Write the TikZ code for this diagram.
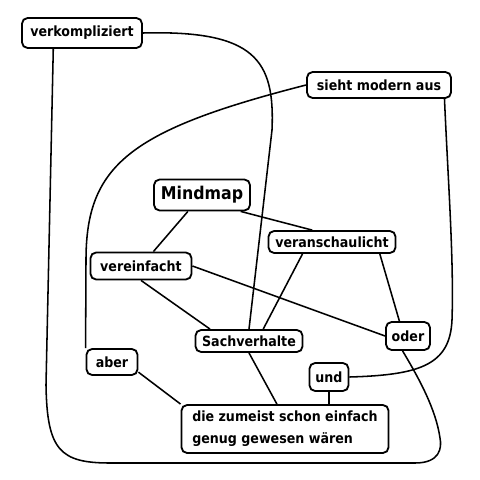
\documentclass[tikz,border=0pt]{standalone}
\usepackage{fontspec}
\setmainfont{DejaVu Sans Condensed}
\usepackage{tikz}

\begin{document}
\begin{tikzpicture}[x=0.025cm,y=-0.025cm,
    bubble/.style={draw,line width=1.3pt,rounded corners=4pt,inner sep=0pt,
      font=\fontsize{10}{12}\bfseries\selectfont},
    link/.style={line width=1.1pt}]
  \useasboundingbox (0,0) rectangle (480,480);
  \foreach \n/\x/\y/\w/\h/\t in {vk/82/33/120/30/verkompliziert,sm/379/85/144/26/sieht modern aus,
      va/332/242/127/22/veranschaulicht,vf/141/266/101/27/vereinfacht,sv/249/341/107/22/Sachverhalte,
      od/408/336/44/28/oder,ab/112/362/51/26/aber,ud/329/377/39/28/und}
    \node[bubble,minimum width=\w*0.71132pt,minimum height=\h*0.71132pt] (\n) at (\x,\y) {\t};
  \node[bubble,minimum width=96*0.71132pt,minimum height=31*0.71132pt,
    font=\fontsize{12.5}{14}\bfseries\selectfont] (mm) at (202,195) {Mindmap};
  \node[bubble,align=left,minimum width=207*0.71132pt,minimum height=48*0.71132pt,
    font=\fontsize{10}{15.6}\bfseries\selectfont] (dz) at (285,429) {die zumeist schon einfach\\genug gewesen wären};
  \foreach \a/\b in {mm/vf,mm.-23/va.149,vf.east/od.west,vf.south/sv.163,va.202/sv.40,
      va.-14/od.120,sv.south/dz.108,ab.-21/dz.north west}
    \draw[link] (\a) -- (\b);
  \draw[link] (ud.south) -- (ud.south |- dz.north);
  \draw[link] (sm.west) .. controls (130,130) and (86,165) .. (86,260) -- (ab.north west);
  \draw[link] (vk.east) .. controls (255,30) and (275,60) .. (272,130) -- (sv.north);
  \draw[link] (sm.-12) .. controls (448,180) and (454,260) .. (452,320)
    .. controls (450,365) and (420,375) .. (ud.east);
  \draw[link] (vk.209) -- (46,385) .. controls (47,450) and (60,463) .. (110,463) -- (415,463)
    .. controls (440,463) and (442,448) .. (440,438) .. controls (436,410) and (420,380) .. (od.250);
\end{tikzpicture}
\end{document}
